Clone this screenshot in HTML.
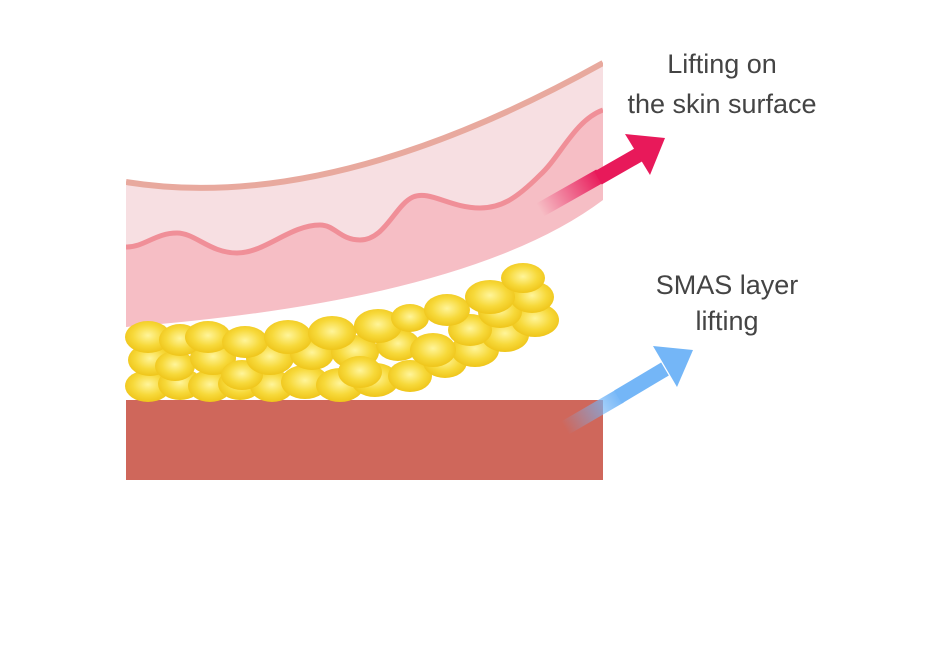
<!DOCTYPE html>
<html><head><meta charset="utf-8"><style>
body{margin:0;background:#fff;}
svg{display:block}
text{font-family:"Liberation Sans",sans-serif;fill:#444;font-size:27px;text-anchor:middle}
</style></head><body>
<svg width="936" height="660" viewBox="0 0 936 660">
<defs>
<radialGradient id="y" cx="50%" cy="45%" r="55%"><stop offset="0" stop-color="#fff59a"/><stop offset="0.6" stop-color="#f7d93a"/><stop offset="1" stop-color="#efc51a"/></radialGradient>
<linearGradient id="rg" x1="540" y1="210" x2="600" y2="175" gradientUnits="userSpaceOnUse"><stop offset="0" stop-color="#e8195a" stop-opacity="0"/><stop offset="1" stop-color="#e8195a"/></linearGradient>
<linearGradient id="bg" x1="565" y1="428" x2="620" y2="395" gradientUnits="userSpaceOnUse"><stop offset="0" stop-color="#74b6f7" stop-opacity="0"/><stop offset="1" stop-color="#74b6f7"/></linearGradient>
<clipPath id="c"><rect x="126" y="0" width="477" height="660"/></clipPath>
</defs>
<g clip-path="url(#c)">
<path d="M126,182 Q330,215 603,63 L603,200 Q470,300 126,327 Z" fill="#f6bec5"/>
<path d="M126,182 Q330,215 603,63 L603,110 C575,120 560,157 540,175 C515,200 500,208 480,208 C450,208 430,190 413,197 C395,205 385,240 360,240 C340,240 335,225 320,225 C290,225 265,253 237,253 C210,253 195,233 177,233 C155,233 145,247 126,247 Z" fill="#f7dfe2"/>
<path d="M126,247 C145,247 155,233 177,233 C195,233 210,253 237,253 C265,253 290,225 320,225 C335,225 340,240 360,240 C385,240 395,205 413,197 C430,190 450,208 480,208 C500,208 515,200 540,175 C560,157 575,120 603,110" fill="none" stroke="#f08f98" stroke-width="5"/>
<path d="M126,182 Q330,215 603,63" fill="none" stroke="#e8a99e" stroke-width="6"/>
<rect x="126" y="400" width="477" height="80" fill="#cf675b"/>
</g>
<g fill="url(#y)">
<!-- bottom row -->
<ellipse cx="148" cy="386" rx="23" ry="16"/><ellipse cx="180" cy="384" rx="22" ry="16"/><ellipse cx="210" cy="386" rx="22" ry="16"/><ellipse cx="240" cy="384" rx="22" ry="16"/>
<ellipse cx="272" cy="386" rx="22" ry="16"/><ellipse cx="305" cy="382" rx="24" ry="17"/><ellipse cx="340" cy="385" rx="24" ry="17"/><ellipse cx="375" cy="380" rx="24" ry="17"/>
<ellipse cx="410" cy="376" rx="22" ry="16"/><ellipse cx="445" cy="362" rx="22" ry="16"/><ellipse cx="475" cy="350" rx="24" ry="17"/><ellipse cx="505" cy="335" rx="24" ry="17"/><ellipse cx="535" cy="320" rx="24" ry="17"/>
<!-- middle row -->
<ellipse cx="150" cy="360" rx="22" ry="16"/><ellipse cx="175" cy="366" rx="20" ry="15"/><ellipse cx="213" cy="358" rx="23" ry="17"/><ellipse cx="242" cy="375" rx="21" ry="15"/>
<ellipse cx="270" cy="358" rx="24" ry="17"/><ellipse cx="312" cy="354" rx="22" ry="16"/><ellipse cx="355" cy="352" rx="24" ry="17"/><ellipse cx="360" cy="372" rx="22" ry="16"/>
<ellipse cx="398" cy="345" rx="22" ry="16"/><ellipse cx="433" cy="350" rx="23" ry="17"/><ellipse cx="470" cy="330" rx="22" ry="16"/><ellipse cx="500" cy="312" rx="22" ry="16"/><ellipse cx="532" cy="297" rx="22" ry="16"/>
<!-- top row -->
<ellipse cx="148" cy="337" rx="23" ry="16"/><ellipse cx="180" cy="340" rx="21" ry="16"/><ellipse cx="208" cy="337" rx="23" ry="16"/><ellipse cx="245" cy="342" rx="23" ry="16"/>
<ellipse cx="288" cy="337" rx="24" ry="17"/><ellipse cx="332" cy="333" rx="24" ry="17"/><ellipse cx="378" cy="326" rx="24" ry="17"/><ellipse cx="410" cy="318" rx="19" ry="14"/>
<ellipse cx="447" cy="310" rx="23" ry="16"/><ellipse cx="490" cy="297" rx="25" ry="17"/><ellipse cx="523" cy="278" rx="22" ry="15"/>
</g>
<path d="M540,210 L600,176" stroke="url(#rg)" stroke-width="15" fill="none"/>
<path d="M598,178 L640,154" stroke="#e8195a" stroke-width="15" fill="none"/>
<polygon points="665,138 625,134 650,175" fill="#e8195a"/>
<path d="M565,428 L620,396" stroke="url(#bg)" stroke-width="15" fill="none"/>
<path d="M618,397 L665,369" stroke="#74b6f7" stroke-width="15" fill="none"/>
<polygon points="693,350 653,346 677,387" fill="#74b6f7"/>
<text x="722" y="73">Lifting on</text>
<text x="722" y="113">the skin surface</text>
<text x="727" y="294">SMAS layer</text>
<text x="727" y="330">lifting</text>
</svg>
</body></html>
